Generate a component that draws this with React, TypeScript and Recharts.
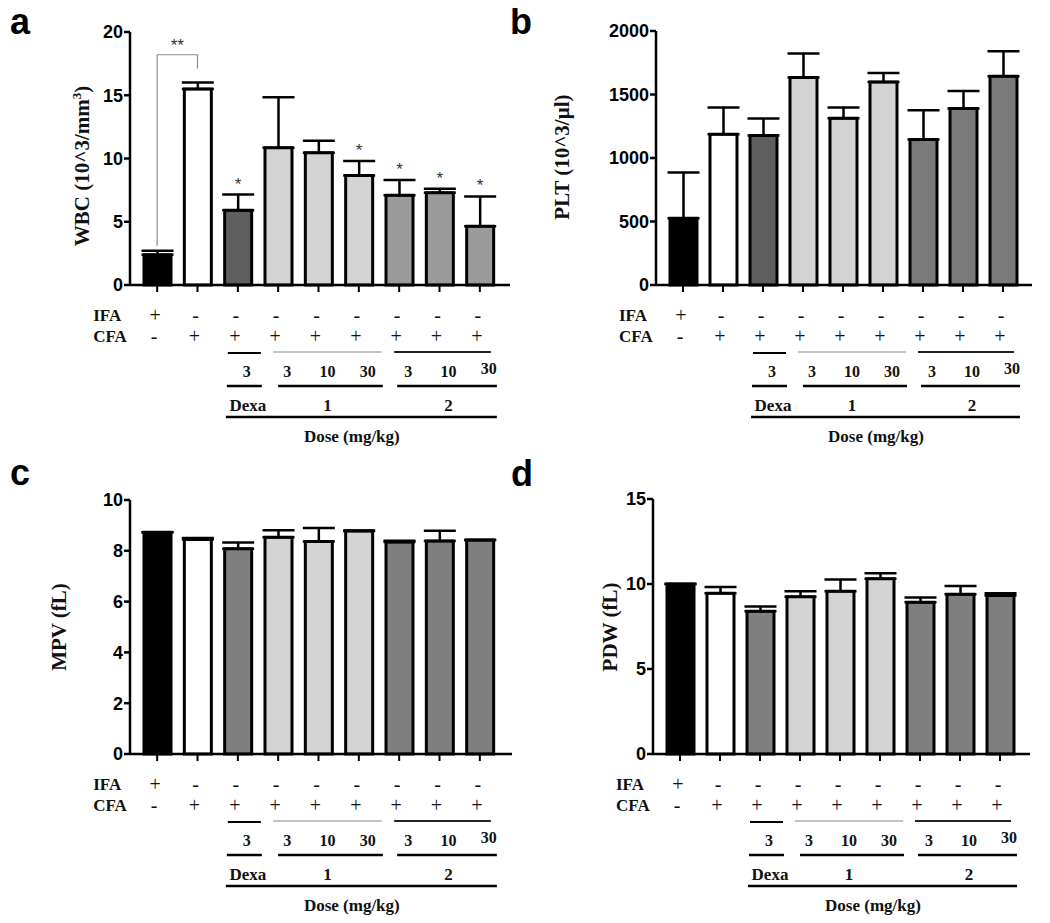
import React from 'react';
import { BarChart, Bar, XAxis, YAxis, ErrorBar, Cell, LabelList, ReferenceLine } from 'recharts';

// groups on the x axis (one bar each)
const groups = ['IFA', 'CFA', 'Dexa 3', 'C1 3', 'C1 10', 'C1 30', 'C2 3', 'C2 10', 'C2 30'];
const ifaSigns = ['+', '-', '-', '-', '-', '-', '-', '-', '-'];
const cfaSigns = ['-', '+', '+', '+', '+', '+', '+', '+', '+'];
const doseLabels = ['', '', '3', '3', '10', '30', '3', '10', '30'];
const compoundLabels = ['Dexa', '1', '2'];
const doseTitle = 'Dose (mg/kg)';

// a: WBC
const wbcMean = [2.4, 15.5, 5.9, 10.85, 10.45, 8.65, 7.1, 7.3, 4.65];
const wbcErr = [0.3, 0.5, 1.25, 4.0, 0.95, 1.15, 1.2, 0.3, 2.35];
const wbcSig = ['', '', '*', '', '', '*', '*', '*', '*'];
const wbcTicks = [0, 5, 10, 15, 20];
// bracket IFA vs CFA
const bracketFrom = 'IFA';
const bracketTo = 'CFA';
const bracketLow = 3.1;
const bracketTop = 18.2;
const bracketEnd = 17.1;
const bracketText = '**';

// b: PLT
const pltMean = [525, 1187, 1177, 1633, 1313, 1599, 1146, 1390, 1644];
const pltErr = [360, 210, 134, 190, 85, 70, 230, 138, 196];
const pltTicks = [0, 500, 1000, 1500, 2000];

// c: MPV
const mpvMean = [8.73, 8.44, 8.08, 8.53, 8.37, 8.78, 8.35, 8.39, 8.43];
const mpvErr = [0, 0.06, 0.25, 0.28, 0.53, 0.02, 0.05, 0.4, 0];
const mpvTicks = [0, 2, 4, 6, 8, 10];

// d: PDW
const pdwMean = [10.0, 9.45, 8.39, 9.25, 9.57, 10.31, 8.92, 9.39, 9.33];
const pdwErr = [0, 0.37, 0.28, 0.33, 0.7, 0.32, 0.28, 0.49, 0.12];
const pdwTicks = [0, 5, 10, 15];

const noSig = ['', '', '', '', '', '', '', '', ''];

const fillsA = ['#000', '#fff', '#5f5f5f', '#d4d4d4', '#d4d4d4', '#d4d4d4', '#9b9b9b', '#9b9b9b', '#9b9b9b'];
const fillsB = ['#000', '#fff', '#5e5e5e', '#d4d4d4', '#d4d4d4', '#d4d4d4', '#7a7a7a', '#7a7a7a', '#7a7a7a'];
const fillsCD = ['#000', '#fff', '#7f7f7f', '#d4d4d4', '#d4d4d4', '#d4d4d4', '#7f7f7f', '#7f7f7f', '#7f7f7f'];

const SERIF = '"Liberation Serif", "Times New Roman", serif';
const SANS = '"Liberation Sans", Arial, sans-serif';

const Line = ({ x1, x2, y, w = 2.5, c = '#000' }: any) => (
  <line x1={x1} x2={x2} y1={y} y2={y} stroke={c} strokeWidth={w} />
);

const Txt = ({ x, y, children, bold = true, size = 17, anchor = 'middle' }: any) => (
  <text x={x} y={y} textAnchor={anchor} dominantBaseline="central" fontFamily={SERIF}
    fontWeight={bold ? 700 : 400} fontSize={size} fill="#111">{children}</text>
);

// draws the IFA / CFA / dose table under each tick
const makeTick = (base: number, step: number) => (props: any) => {
  const { x, index } = props;
  const i = index as number;
  return (
    <g>
      {i === 0 && <Txt x={x - 64} y={base + 30} anchor="start">IFA</Txt>}
      {i === 0 && <Txt x={x - 64} y={base + 51} anchor="start">CFA</Txt>}
      <Txt x={x - 2} y={base + 30} bold={false} size={20}>{ifaSigns[i]}</Txt>
      <Txt x={x - 3} y={base + 51} bold={false} size={20}>{cfaSigns[i]}</Txt>
      <Txt x={x + 9} y={base + (i === 8 ? 83 : 86)} size={16}>{doseLabels[i]}</Txt>
      {i === 2 && (
        <g>
          <Line x1={x - 10} x2={x + 23} y={base + 68} w={2} />
          <Line x1={x - 11} x2={x + 24} y={base + 101} />
          <Txt x={x + 10} y={base + 120}>{compoundLabels[0]}</Txt>
          <Line x1={x - 12} x2={x + 6 * step + 17} y={base + 132} />
        </g>
      )}
      {i === 3 && (
        <g>
          <Line x1={x - 5} x2={x + 2 * step + 23} y={base + 67} w={1.2} c="#8a8a8a" />
          <Line x1={x} x2={x + 2 * step + 24} y={base + 101} />
        </g>
      )}
      {i === 4 && <Txt x={x + 9} y={base + 120}>{compoundLabels[1]}</Txt>}
      {i === 5 && <Txt x={x - 7} y={base + 151}>{doseTitle}</Txt>}
      {i === 6 && (
        <g>
          <Line x1={x - 5} x2={x + 2 * step + 11} y={base + 67} w={1.8} c="#222" />
          <Line x1={x - 2} x2={x + 2 * step + 17} y={base + 101} />
        </g>
      )}
      {i === 7 && <Txt x={x + 9} y={base + 120}>{compoundLabels[2]}</Txt>}
    </g>
  );
};

const makeStar = (mean: number[], err: number[]) => (p: any) => {
  const vb = p.viewBox ?? p;
  const { x, y, width, height } = vb;
  const idx = p.index;
  if (!p.value || idx == null) return null;
  const ppu = height / mean[idx];
  const top = y - err[idx] * ppu;
  return (
    <text x={x + width / 2} y={top - 5} textAnchor="middle" fontFamily={SANS} fontSize={17} fill="#333">
      {p.value}
    </text>
  );
};

type PanelProps = {
  left: number; top: number; width: number; height: number;
  marginTop: number; marginRight: number; yw: number; xh: number;
  pad: { left: number; right: number };
  ticks: number[]; mean: number[]; err: number[]; sig: string[]; fills: string[];
  title: React.ReactNode; titleX: number; titleY: number; bracket?: boolean;
};

const Panel = (p: PanelProps) => {
  const data = groups.map((g, i) => ({ group: g, mean: p.mean[i], err: [0, p.err[i]], sig: p.sig[i] }));
  const base = p.height - p.xh;
  const step = (p.width - p.marginRight - p.yw - p.pad.left - p.pad.right) / groups.length;
  const max = p.ticks[p.ticks.length - 1];
  return (
    <div style={{ position: 'absolute', left: p.left, top: p.top }}>
      <BarChart width={p.width} height={p.height} data={data}
        margin={{ top: p.marginTop, right: p.marginRight, bottom: 0, left: 0 }}>
        <XAxis dataKey="group" height={p.xh} interval={0} padding={p.pad}
          axisLine={{ stroke: '#000', strokeWidth: 2.5 }}
          tickLine={{ stroke: '#000', strokeWidth: 2 }} tickSize={7}
          tick={makeTick(base, step)} />
        <YAxis type="number" domain={[0, max]} ticks={p.ticks} interval={0} width={p.yw}
          axisLine={{ stroke: '#000', strokeWidth: 2.5 }}
          tickLine={{ stroke: '#000', strokeWidth: 2.5 }} tickSize={6} tickMargin={1}
          tick={{ fill: '#000', fontSize: 18, fontWeight: 700, fontFamily: SANS }}
          label={() => (
            <text x={p.titleX} y={p.titleY} transform={`rotate(-90 ${p.titleX} ${p.titleY})`}
              textAnchor="middle" fontFamily={SERIF} fontWeight={700} fontSize={21} fill="#111">
              {p.title}
            </text>
          )} />
        {p.bracket && (
          <ReferenceLine segment={[{ x: bracketFrom, y: bracketLow }, { x: bracketFrom, y: bracketTop }]}
            stroke="#8a8a8a" strokeWidth={1.2} />
        )}
        {p.bracket && (
          <ReferenceLine segment={[{ x: bracketFrom, y: bracketTop }, { x: bracketTo, y: bracketTop }]}
            stroke="#8a8a8a" strokeWidth={1.2}
            label={{ value: bracketText, position: 'top', offset: 4, fontSize: 17, fill: '#333', fontFamily: SANS }} />
        )}
        {p.bracket && (
          <ReferenceLine segment={[{ x: bracketTo, y: bracketTop }, { x: bracketTo, y: bracketEnd }]}
            stroke="#8a8a8a" strokeWidth={1.2} />
        )}
        <Bar dataKey="mean" barSize={27} stroke="#000" strokeWidth={3} isAnimationActive={false}>
          {data.map((d, i) => <Cell key={d.group} fill={p.fills[i]} />)}
          <ErrorBar dataKey="err" direction="y" width={16} stroke="#000" strokeWidth={2.5} isAnimationActive={false} />
          <LabelList dataKey="sig" content={makeStar(p.mean, p.err)} />
        </Bar>
      </BarChart>
    </div>
  );
};

const Letter = ({ x, y, children }: any) => (
  <div style={{ position: 'absolute', left: x, top: y, fontFamily: SANS, fontWeight: 700, fontSize: 36, lineHeight: 'normal', color: '#000' }}>
    {children}
  </div>
);

export default function App() {
  return (
    <div style={{ position: 'relative', width: 1050, height: 923, margin: -8, background: '#fff', overflow: 'hidden' }}>
      <Panel left={0} top={0} width={525} height={455} marginTop={32} marginRight={15} yw={130} xh={170}
        pad={{ left: 7, right: 10 }} ticks={wbcTicks} mean={wbcMean} err={wbcErr} sig={wbcSig} fills={fillsA}
        titleX={89} titleY={166} bracket
        title={<>WBC (10^3/mm<tspan dy={-8} fontSize={13}>3</tspan><tspan dy={8}>)</tspan></>} />
      <Panel left={500} top={0} width={535} height={455} marginTop={31} marginRight={3} yw={156} xh={170}
        pad={{ left: 7, right: 9 }} ticks={pltTicks} mean={pltMean} err={pltErr} sig={noSig} fills={fillsB}
        titleX={69} titleY={157} title="PLT (10^3/µl)" />
      <Panel left={0} top={460} width={525} height={463} marginTop={40} marginRight={13} yw={130} xh={169}
        pad={{ left: 7, right: 12 }} ticks={mpvTicks} mean={mpvMean} err={mpvErr} sig={noSig} fills={fillsCD}
        titleX={66} titleY={167} title="MPV (fL)" />
      <Panel left={500} top={460} width={535} height={463} marginTop={39} marginRight={5} yw={153} xh={169}
        pad={{ left: 7, right: 10 }} ticks={pdwTicks} mean={pdwMean} err={pdwErr} sig={noSig} fills={fillsCD}
        titleX={117} titleY={167} title="PDW (fL)" />
      <Letter x={10} y={1}>a</Letter>
      <Letter x={510} y={1}>b</Letter>
      <Letter x={10} y={452}>c</Letter>
      <Letter x={511} y={453}>d</Letter>
    </div>
  );
}
